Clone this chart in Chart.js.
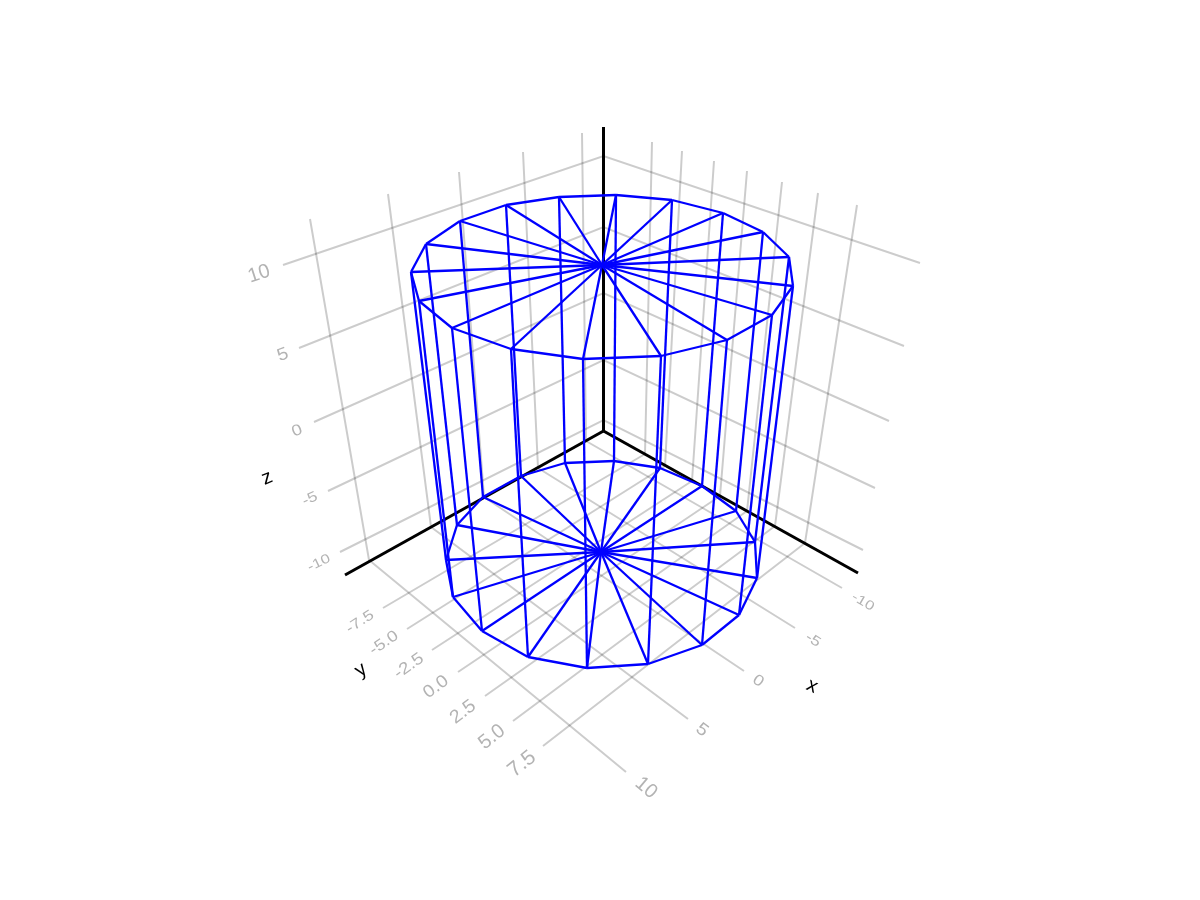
<!DOCTYPE html>
<html lang="en">

<head>
    <meta charset="UTF-8">
    <title>Cylinder wireframe</title>
    <script src="https://cdn.jsdelivr.net/npm/chart.js"></script>
    <style>
        html, body { margin: 0; padding: 0; background: #fff; }
        canvas { display: block; }
    </style>
</head>

<body>
    <canvas id="chart" width="1200" height="900"></canvas>

    <script>

        // Wireframe rings, same vertex order on both, hub is the ring centre
        const topRingX = [411, 426, 460, 506, 559, 616, 672, 723, 763, 789, 793, 772, 727, 661, 583, 511, 452, 419];
        const topRingY = [272, 244, 221, 205, 197, 195, 200, 213, 232, 257, 286, 315, 340, 356, 359, 349, 328, 301];
        const bottomRingX = [446, 457, 483, 521, 565, 614, 660, 702, 736, 755, 757, 739, 702, 648, 587, 528, 482, 453];
        const bottomRingY = [560, 525, 497, 476, 463, 461, 468, 486, 511, 542, 578, 615, 645, 664, 668, 657, 631, 597];
        const topHub = [602, 265];
        const bottomHub = [601, 552];

        // Black axes: corner, then the far end of each
        const corner = [603.5, 431];
        const axisEnds = [[603.5, 127], [345, 575], [858, 573]];

        // z grid: both wall lines meet on the z axis
        const zTicks = ['10', '5', '0', '-5', '-10'];
        const zOnAxisY = [156, 227, 293, 360, 420];
        const zLeftEndX = [283, 299, 314, 328, 340];
        const zLeftEndY = [265, 348, 422, 491, 552];
        const zRightEndX = [920, 904, 889, 875, 863];
        const zRightEndY = [263, 346, 421, 488, 550];

        // y grid: right wall top, point on right axis, floor end
        const yTicks = ['-7.5', '-5.0', '-2.5', '0.0', '2.5', '5.0', '7.5'];
        const yTopX = [652, 682, 714, 747, 782, 818, 857];
        const yTopY = [142, 151, 161, 171, 182, 193, 205];
        const yBaseX = [645, 665, 692, 720, 747, 775, 805];
        const yBaseY = [454, 466, 481, 496, 511, 526, 543];
        const yEndX = [383, 407, 432, 458, 485, 513, 543];
        const yEndY = [608, 629, 650, 672, 696, 721, 746];

        // x grid: left wall top, point on left axis, floor end
        const xTicks = ['-10', '-5', '0', '5', '10'];
        const xTopX = [582, 523, 459, 388, 310];
        const xTopY = [133, 152, 172, 194, 219];
        const xBaseX = [586, 538, 484, 431, 369];
        const xBaseY = [441, 468, 497, 527, 560];
        const xEndX = [842, 795, 744, 688, 626];
        const xEndY = [588, 628, 671, 719, 772];

        // Tick and axis labels: text, centre, rotation in degrees, font size
        const zLabelX = [259, 283, 297, 310, 319];
        const zLabelY = [274, 355, 431, 499, 563];
        const zLabelAngle = [-18, -20, -22, -24, -26];
        const zLabelSize = [20, 17.5, 15.5, 14, 13];

        const yLabelX = [360, 384, 409, 436, 463, 492, 522];
        const yLabelY = [622, 643, 666, 687, 712, 737, 764];
        const yLabelAngle = [-33, -34, -35, -36, -37, -38, -39];
        const yLabelSize = [14.5, 15.5, 16.5, 17.5, 18.5, 20, 21];

        const xLabelX = [863, 813, 758, 702, 646];
        const xLabelY = [602, 640, 681, 730, 788];
        const xLabelAngle = [30, 32, 34, 37, 40];
        const xLabelSize = [13, 14, 15.5, 17.5, 20];

        const axisTitles = ['x', 'y', 'z'];
        const axisTitleX = [812, 361, 267];
        const axisTitleY = [686, 670, 478];
        const axisTitleAngle = [25, -35, -22];

        const BLUE = '#0000ff';
        const GRID = 'rgba(0, 0, 0, 0.2)';
        const TICK = '#b3b3b3';

        const datasets = [];

        function addLine(points, color, width, order) {
            datasets.push({
                data: points.map(p => ({ x: p[0], y: p[1] })),
                borderColor: color,
                borderWidth: width,
                showLine: true,
                pointRadius: 0,
                tension: 0,
                order: order
            });
        }

        // Grid lines
        zTicks.forEach((t, i) => {
            addLine([[zLeftEndX[i], zLeftEndY[i]], [corner[0], zOnAxisY[i]], [zRightEndX[i], zRightEndY[i]]], GRID, 2, 2);
        });
        yTicks.forEach((t, i) => {
            addLine([[yTopX[i], yTopY[i]], [yBaseX[i], yBaseY[i]], [yEndX[i], yEndY[i]]], GRID, 2, 2);
        });
        xTicks.forEach((t, i) => {
            addLine([[xTopX[i], xTopY[i]], [xBaseX[i], xBaseY[i]], [xEndX[i], xEndY[i]]], GRID, 2, 2);
        });

        // Black axes
        axisEnds.forEach(end => addLine([corner, end], '#000000', 3, 1));

        // Wireframe: rings, spokes and the uprights
        const n = topRingX.length;
        for (let i = 0; i < n; i++) {
            const j = (i + 1) % n;
            const a = [topRingX[i], topRingY[i]];
            const b = [bottomRingX[i], bottomRingY[i]];
            addLine([a, [topRingX[j], topRingY[j]]], BLUE, 2.3, 0);
            addLine([b, [bottomRingX[j], bottomRingY[j]]], BLUE, 2.3, 0);
            addLine([topHub, a], BLUE, 2.3, 0);
            addLine([bottomHub, b], BLUE, 2.3, 0);
            addLine([a, b], BLUE, 2.3, 0);
        }

        function drawLabel(chart, text, x, y, angle, size, color) {
            const ctx = chart.ctx;
            ctx.save();
            ctx.translate(chart.scales.x.getPixelForValue(x), chart.scales.y.getPixelForValue(y));
            ctx.rotate(angle * Math.PI / 180);
            // the far labels are squashed by the perspective, so they come out wider than tall
            ctx.scale(1 + Math.max(0, 20 - size) * 0.04, 1);
            ctx.font = size + 'px "Liberation Sans"';
            ctx.fillStyle = color;
            ctx.textAlign = 'center';
            ctx.textBaseline = 'middle';
            ctx.fillText(text, 0, 0);
            ctx.restore();
        }

        const labelPlugin = {
            id: 'sceneLabels',
            afterDatasetsDraw(chart) {
                zTicks.forEach((t, i) => drawLabel(chart, t, zLabelX[i], zLabelY[i], zLabelAngle[i], zLabelSize[i], TICK));
                yTicks.forEach((t, i) => drawLabel(chart, t, yLabelX[i], yLabelY[i], yLabelAngle[i], yLabelSize[i], TICK));
                xTicks.forEach((t, i) => drawLabel(chart, t, xLabelX[i], xLabelY[i], xLabelAngle[i], xLabelSize[i], TICK));
                axisTitles.forEach((t, i) => drawLabel(chart, t, axisTitleX[i], axisTitleY[i], axisTitleAngle[i], 20, '#000000'));
            }
        };

        new Chart(document.getElementById('chart').getContext('2d'), {
            type: 'scatter',
            data: { datasets: datasets },
            plugins: [labelPlugin],
            options: {
                responsive: false,
                animation: false,
                devicePixelRatio: 1,
                layout: { padding: 0 },
                plugins: { legend: { display: false }, tooltip: { enabled: false } },
                scales: {
                    x: { type: 'linear', min: 0, max: 1200, display: false },
                    y: { type: 'linear', min: 0, max: 900, reverse: true, display: false }
                }
            }
        });
    </script>
</body>

</html>
